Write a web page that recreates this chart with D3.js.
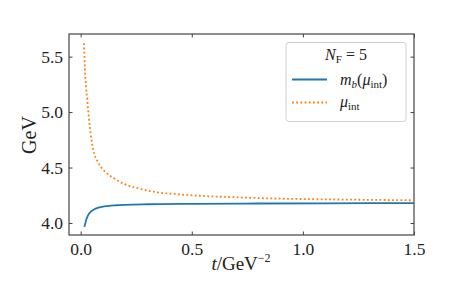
<!DOCTYPE html>
<html><head><meta charset="utf-8">
<script src="https://cdn.jsdelivr.net/npm/d3@7"></script>
<style>body{margin:0;background:#fff}text{font-family:"Liberation Serif",serif;fill:#222}</style>
</head><body><svg id="c" width="461" height="284"></svg>
<script>
const muT = [0.015,0.019,0.030,0.045,0.057,0.075,0.093,0.12,0.145,0.198,0.25,0.334,0.446,0.559,0.671,0.85,1.0,1.2,1.5];
const muV = [5.62,5.40,5.10,4.805,4.654,4.56,4.50,4.445,4.41,4.35,4.317,4.28,4.258,4.243,4.234,4.222,4.216,4.211,4.205];
const mbT = [0.017,0.02,0.025,0.03,0.04,0.06,0.08,0.12,0.16,0.2,0.3,0.5,0.8,1.1,1.5];
const mbV = [3.965,3.99,4.03,4.055,4.09,4.122,4.138,4.153,4.16,4.164,4.169,4.173,4.176,4.178,4.18];
const xTicks = [0.0,0.5,1.0,1.5];
const yTicks = [4.0,4.5,5.0,5.5];

const svg = d3.select("#c");
const L=69,R=414,T=34,B=235;
const x = d3.scaleLinear().domain([-0.0525,1.5]).range([L,R]);
const y = d3.scaleLinear().domain([3.892,5.704]).range([B,T]);
const fmt = d3.format(".1f");
const sc="#444";
const ax = (g,axis)=>{g.call(axis);g.select(".domain").remove();g.selectAll("line").attr("stroke",sc);};
svg.append("g").attr("transform",`translate(0,${B})`).call(g=>ax(g,d3.axisBottom(x).tickValues(xTicks).tickFormat(fmt).tickSizeInner(-3.5).tickPadding(8)))
  .selectAll("text").attr("font-size",17.5).attr("font-family","Liberation Serif").attr("fill","#222");
svg.append("g").attr("transform",`translate(0,${T})`).call(g=>ax(g,d3.axisTop(x).tickValues(xTicks).tickFormat("").tickSizeInner(-3.5)));
svg.append("g").attr("transform",`translate(${L},0)`).call(g=>ax(g,d3.axisLeft(y).tickValues(yTicks).tickFormat(fmt).tickSizeInner(-3.5).tickPadding(6)))
  .selectAll("text").attr("font-size",17.5).attr("font-family","Liberation Serif").attr("fill","#222");
svg.append("g").attr("transform",`translate(${R},0)`).call(g=>ax(g,d3.axisRight(y).tickValues(yTicks).tickFormat("").tickSizeInner(-3.5)));
svg.append("rect").attr("x",L).attr("y",T).attr("width",R-L).attr("height",B-T).attr("fill","none").attr("stroke",sc).attr("stroke-width",1.2);

const line=d3.line().x(d=>x(d[0])).y(d=>y(d[1])).curve(d3.curveMonotoneX);
svg.append("path").datum(d3.zip(mbT,mbV)).attr("d",line).attr("fill","none").attr("stroke","#1f77b4").attr("stroke-width",1.8);
svg.append("path").datum(d3.zip(muT,muV)).attr("d",line).attr("fill","none").attr("stroke","#ff7f0e").attr("stroke-width",1.8).attr("stroke-dasharray","1.8,2.4");

svg.append("text").attr("x",241).attr("y",270).attr("text-anchor","middle").attr("font-size",19)
  .html('<tspan font-style="italic">t</tspan>/GeV<tspan dy="-8" font-size="12">−2</tspan>');
svg.append("text").attr("transform","translate(36,135) rotate(-90)").attr("text-anchor","middle").attr("font-size",20).text("GeV");

const lg=svg.append("g");
lg.append("rect").attr("x",286).attr("y",42.5).attr("width",120).attr("height",79).attr("rx",3).attr("fill","#fff").attr("fill-opacity",0.8).attr("stroke","#d0d0d0");
lg.append("text").attr("x",346).attr("y",60).attr("text-anchor","middle").attr("font-size",16)
  .html('<tspan font-style="italic">N</tspan><tspan dy="3" font-size="11">F</tspan><tspan dy="-3"> = 5</tspan>');
lg.append("line").attr("x1",292).attr("x2",327).attr("y1",79.5).attr("y2",79.5).attr("stroke","#1f77b4").attr("stroke-width",1.8);
lg.append("line").attr("x1",292).attr("x2",327).attr("y1",102.5).attr("y2",102.5).attr("stroke","#ff7f0e").attr("stroke-width",1.8).attr("stroke-dasharray","1.8,2.4");
lg.append("text").attr("x",340).attr("y",85).attr("font-size",16)
  .html('<tspan font-style="italic">m</tspan><tspan dy="3" font-size="11" font-style="italic">b</tspan><tspan dy="-3">(</tspan><tspan font-style="italic">μ</tspan><tspan dy="3" font-size="11">int</tspan><tspan dy="-3">)</tspan>');
lg.append("text").attr("x",340).attr("y",107).attr("font-size",16)
  .html('<tspan font-style="italic">μ</tspan><tspan dy="3" font-size="11">int</tspan>');
</script></body></html>
